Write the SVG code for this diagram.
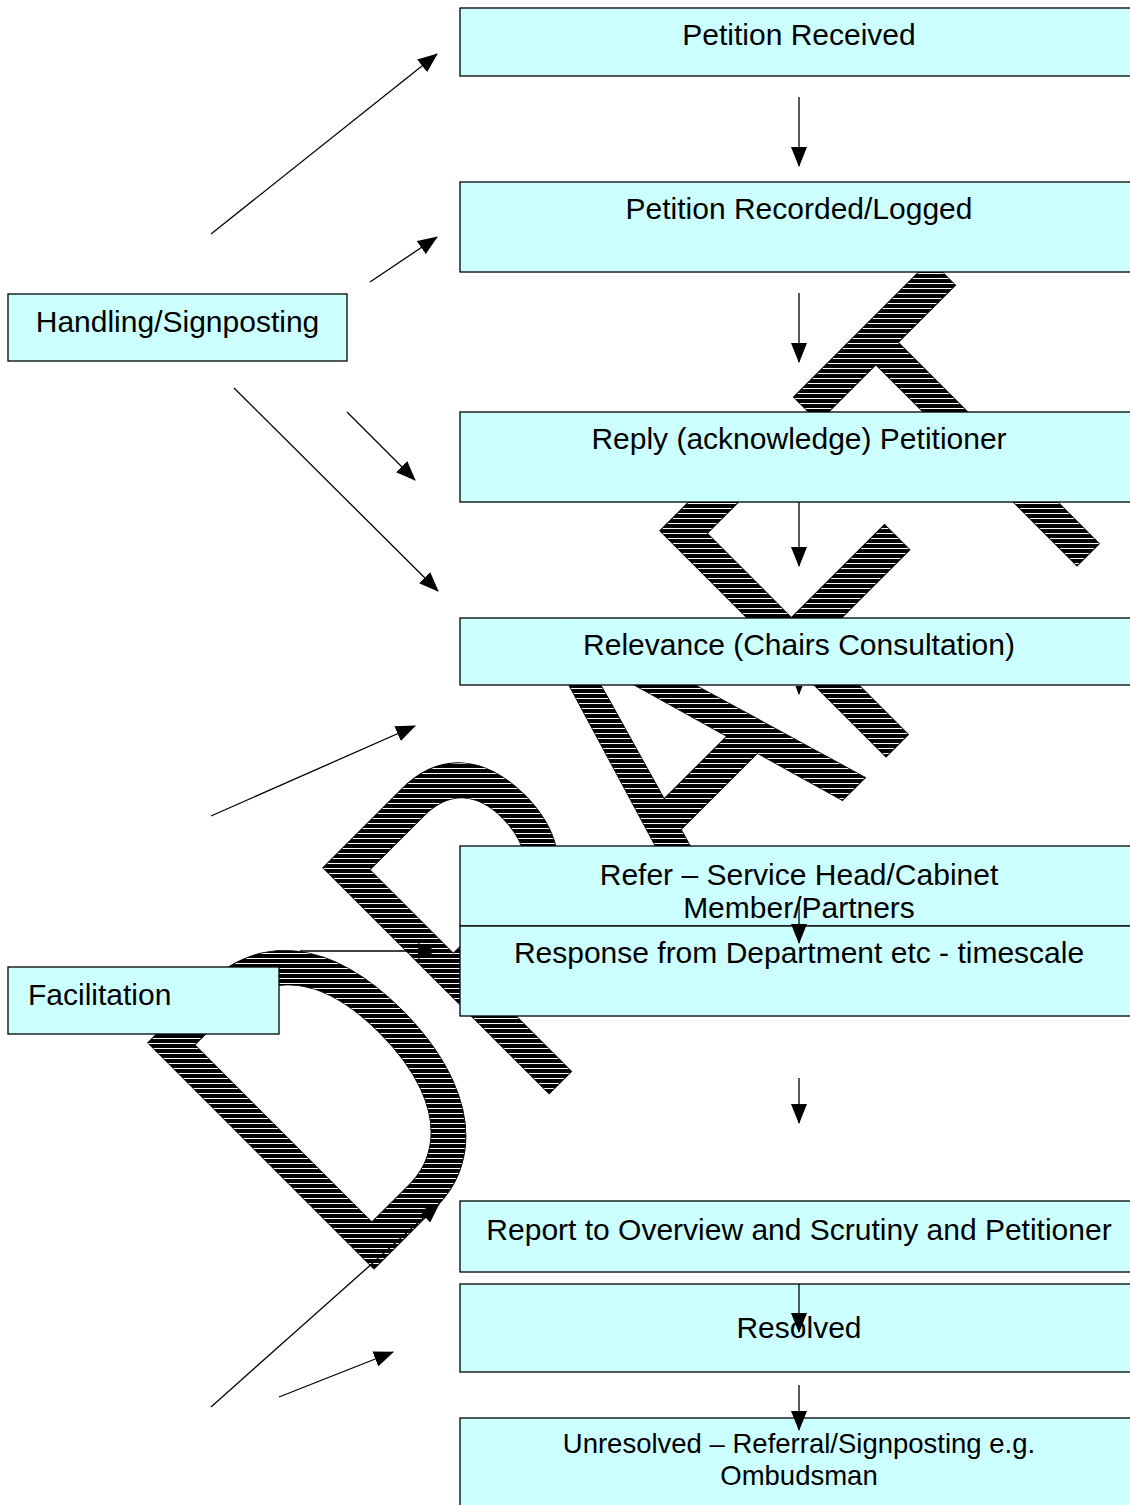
<svg xmlns="http://www.w3.org/2000/svg" width="1130" height="1505" viewBox="0 0 1130 1505">
  <style>
    .box { fill: #CCFFFF; stroke: #000; stroke-width: 1.3; }
    .lbl { font-family: "Liberation Sans", Arial, sans-serif; font-size: 30px; fill: #000; }
    .sm { font-size: 27.5px; }
    .mid { text-anchor: middle; }
    .conn { stroke: #000; stroke-width: 1.3; fill: none; marker-end: url(#ah); }
    .wm { font-family: "Liberation Sans", Arial, sans-serif; font-size: 465px; fill: url(#hatch); stroke: #000; stroke-width: 1; }
  </style>
  <defs>
    <marker id="ah" markerUnits="userSpaceOnUse" viewBox="0 0 20 16" refX="19" refY="8" markerWidth="20" markerHeight="16" orient="auto">
      <path d="M0,0 L20,8 L0,16 Z" fill="#000"/>
    </marker>
    <pattern id="hatch" patternUnits="userSpaceOnUse" width="100" height="5" patternTransform="scale(1.3557,1) rotate(45)">
      <rect width="100" height="5" fill="#fff"/>
      <rect width="100" height="4" fill="#000"/>
    </pattern>
    <clipPath id="belowBox4">
      <rect x="780" y="686" width="40" height="20"/>
    </clipPath>
  </defs>

  <rect width="1130" height="1505" fill="#fff"/>

  <g id="watermark">
    <text class="wm" transform="translate(354,1289) rotate(-45) scale(0.7376,1)" x="0" y="0">DRAFT</text>
  </g>

  <g id="n-received">
    <rect class="box" x="460" y="8" width="700" height="68"/>
    <text class="lbl mid" x="799" y="45">Petition Received</text>
  </g>
  <g id="n-recorded">
    <rect class="box" x="460" y="182" width="700" height="90"/>
    <text class="lbl mid" x="799" y="219">Petition Recorded/Logged</text>
  </g>
  <g id="n-reply">
    <rect class="box" x="460" y="412" width="700" height="90"/>
    <text class="lbl mid" x="799" y="449">Reply (acknowledge) Petitioner</text>
  </g>
  <g id="n-relevance">
    <rect class="box" x="460" y="618" width="700" height="67"/>
    <text class="lbl mid" x="799" y="655">Relevance (Chairs Consultation)</text>
  </g>
  <g id="n-refer">
    <rect class="box" x="460" y="846" width="700" height="80"/>
    <text class="lbl mid" x="799" y="885">Refer – Service Head/Cabinet</text>
    <text class="lbl mid" x="799" y="918">Member/Partners</text>
  </g>
  <g id="n-response">
    <rect class="box" x="460" y="926" width="700" height="90"/>
    <text class="lbl mid" x="799" y="963">Response from Department etc - timescale</text>
  </g>
  <g id="n-report">
    <rect class="box" x="460" y="1201" width="700" height="71"/>
    <text class="lbl mid" x="799" y="1240">Report to Overview and Scrutiny and Petitioner</text>
  </g>
  <g id="n-resolved">
    <rect class="box" x="460" y="1284" width="700" height="88"/>
    <text class="lbl mid" x="799" y="1338">Resolved</text>
  </g>
  <g id="n-unresolved">
    <rect class="box" x="460" y="1418" width="700" height="100"/>
    <text class="lbl sm mid" x="799" y="1453">Unresolved – Referral/Signposting e.g.</text>
    <text class="lbl sm mid" x="799" y="1485">Ombudsman</text>
  </g>
  <g id="n-handling">
    <rect class="box" x="8" y="294" width="339" height="67"/>
    <text class="lbl mid" x="177.5" y="332">Handling/Signposting</text>
  </g>
  <g id="n-facilitation">
    <rect class="box" x="8" y="967" width="271" height="67"/>
    <text class="lbl" x="28" y="1005">Facilitation</text>
  </g>

  <g id="connectors">
    <line class="conn" x1="799" y1="97" x2="799" y2="166"/>
    <line class="conn" x1="799" y1="293" x2="799" y2="362"/>
    <line class="conn" x1="799" y1="502" x2="799" y2="566"/>
    <line class="conn" x1="799" y1="650" x2="799" y2="694" clip-path="url(#belowBox4)"/>
    <line class="conn" x1="799" y1="903" x2="799" y2="943"/>
    <line class="conn" x1="799" y1="1078" x2="799" y2="1123"/>
    <line class="conn" x1="799" y1="1284" x2="799" y2="1332"/>
    <line class="conn" x1="799" y1="1385" x2="799" y2="1430"/>
    <line class="conn" x1="211" y1="234" x2="437" y2="54"/>
    <line class="conn" x1="370" y1="282" x2="437" y2="237"/>
    <line class="conn" x1="347" y1="412" x2="415" y2="480"/>
    <line class="conn" x1="234" y1="388" x2="438" y2="591"/>
    <line class="conn" x1="211" y1="816" x2="415" y2="726"/>
    <line class="conn" x1="300" y1="951" x2="437" y2="951"/>
    <line class="conn" x1="211" y1="1407" x2="439" y2="1204"/>
    <line class="conn" x1="279" y1="1397" x2="393" y2="1352"/>
  </g>
</svg>
